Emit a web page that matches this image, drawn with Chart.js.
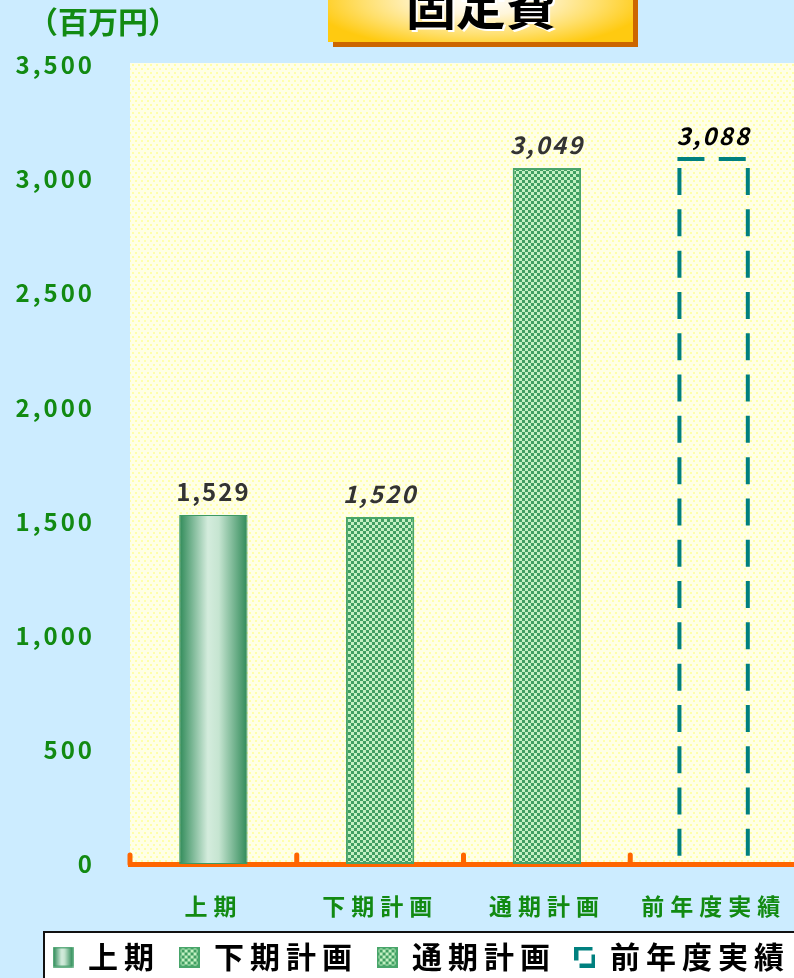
<!DOCTYPE html>
<html>
<head>
<meta charset="utf-8">
<script src="https://cdn.jsdelivr.net/npm/chart.js@4.4.1/dist/chart.umd.min.js"></script>
<style>
html,body{margin:0;padding:0;background:#CCECFF;overflow:hidden;}
#wrap{position:relative;width:794px;height:978px;overflow:hidden;}
canvas{display:block;}
</style>
</head>
<body>
<div id="wrap"><canvas id="costChart" width="843" height="1000"></canvas></div>
<script>
const categories = ["上期","下期計画","通期計画","前年度実績"];
const seriesNames = ["上期","下期計画","通期計画","前年度実績"];
const seriesValues = [1529, 1520, 3049, 3088];
const yTickValues = [0, 500, 1000, 1500, 2000, 2500, 3000, 3500];
const unitLabel = "（百万円）";
const titleText = "固定費";

const JP = '"Noto Sans CJK JP", "Noto Sans", sans-serif';
const GREEN_TEXT = "#128A12";
const TEAL = "#00807F";

function makeCanvas(w,h){
    const c = document.createElement("canvas");
    c.width = w; c.height = h;
    return c;
}

// checker fill used by the plan bars
function checkerPattern(){
    const c = makeCanvas(6,6);
    const g = c.getContext("2d");
    g.fillStyle = "#C3F1C2";
    g.fillRect(0,0,6,6);
    g.fillStyle = "#409F62";
    g.fillRect(0,0,3,3);
    g.fillRect(3,3,3,3);
    return c;
}

// pale yellow dotted plot background
function dotPattern(){
    const c = makeCanvas(6,8);
    const g = c.getContext("2d");
    g.fillStyle = "#FFFFE6";
    g.fillRect(0,0,6,8);
    g.fillStyle = "#FFFFAA";
    g.fillRect(0,0,2,2);
    g.fillRect(3,4,2,2);
    return c;
}

function addCylinderStops(grad){
    grad.addColorStop(0,"#2F8A58");
    grad.addColorStop(0.42,"#D4ECDD");
    grad.addColorStop(0.58,"#C6E5D1");
    grad.addColorStop(1,"#2F8A58");
    return grad;
}

const checkerCanvas = checkerPattern();
const scratch = makeCanvas(1,1).getContext("2d");
const checkerFill = scratch.createPattern(checkerCanvas,"repeat");

function legendIcon(kind){
    const c = makeCanvas(21,21);
    const g = c.getContext("2d");
    if(kind==="cyl"){
        g.fillStyle = addCylinderStops(g.createLinearGradient(1,0,20,0));
        g.fillRect(1,1,19,19);
        g.strokeStyle = "#3C9A64";
        g.lineWidth = 1.5;
        g.strokeRect(1,1,19,19);
    }else if(kind==="check"){
        g.fillStyle = g.createPattern(checkerCanvas,"repeat");
        g.fillRect(1,1,19,19);
        g.strokeStyle = "#48A56A";
        g.lineWidth = 2;
        g.strokeRect(1,1,19,19);
    }else{
        g.strokeStyle = TEAL;
        g.lineWidth = 4;
        g.beginPath();
        g.moveTo(18,2); g.lineTo(2,2); g.lineTo(2,14);
        g.moveTo(5,19); g.lineTo(19,19); g.lineTo(19,8);
        g.stroke();
    }
    return c;
}

const legendIcons = [legendIcon("cyl"),legendIcon("check"),legendIcon("check"),legendIcon("dash")];

const labelStyles = [
    {italic:false,color:"#333333"},
    {italic:true,color:"#333333"},
    {italic:true,color:"#333333"},
    {italic:true,color:"#000000"}
];

function seriesData(i){
    return categories.map((c,k)=> k===i ? seriesValues[i] : null);
}

function cylinderFill(context){
    const chart = context.chart;
    if(!chart.chartArea || !chart.scales.x) return "#6DB58A";
    const xs = chart.scales.x;
    const w = xs.width / categories.length * 0.41;
    const cx = xs.getPixelForValue(0);
    return addCylinderStops(chart.ctx.createLinearGradient(cx - w/2,0,cx + w/2,0));
}

const decorPlugin = {
    id:"decor",
    beforeLayout(chart){
        chart.ctx.letterSpacing = "6px";
    },
    beforeDraw(chart){
        const ctx = chart.ctx;
        const a = chart.chartArea;
        ctx.save();
        ctx.fillStyle = ctx.createPattern(dotPattern(),"repeat");
        ctx.fillRect(a.left,a.top - 2,a.right - a.left,a.bottom - a.top + 2);

        // legend frame
        ctx.fillStyle = "#FFFFFF";
        ctx.fillRect(43,931,900,100);
        ctx.strokeStyle = "#111111";
        ctx.lineWidth = 2;
        ctx.strokeRect(44,932,900,100);
        ctx.restore();
        ctx.letterSpacing = "6px";
    },
    afterDatasetsDraw(chart){
        const ctx = chart.ctx;
        const xs = chart.scales.x;
        const step = xs.width / categories.length;

        ctx.save();
        // category tick marks on the axis
        ctx.strokeStyle = "#FF6600";
        ctx.lineWidth = 5;
        ctx.lineCap = "round";
        ctx.beginPath();
        for(let i=0;i<=categories.length;i++){
            const x = xs.getPixelForValue(0) - step/2 + step*i;
            ctx.moveTo(x,xs.top);
            ctx.lineTo(x,xs.top - 9);
        }
        ctx.stroke();

        // dashed outline for last year's result
        const el = chart.getDatasetMeta(3).data[3];
        const l = el.x - el.width/2;
        const r = el.x + el.width/2;
        ctx.strokeStyle = TEAL;
        ctx.lineWidth = 4;
        ctx.lineCap = "butt";
        ctx.setLineDash([27,14.3]);
        ctx.beginPath();
        ctx.moveTo(l - 2,el.y);
        ctx.lineTo(r + 2,el.y);
        ctx.stroke();
        ctx.beginPath();
        ctx.moveTo(l,el.y + 9);
        ctx.lineTo(l,el.base - 4);
        ctx.moveTo(r,el.y + 9);
        ctx.lineTo(r,el.base - 4);
        ctx.stroke();
        ctx.setLineDash([]);

        // value labels
        ctx.letterSpacing = "2px";
        ctx.textAlign = "center";
        ctx.textBaseline = "middle";
        seriesValues.forEach((v,i)=>{
            const bar = chart.getDatasetMeta(i).data[i];
            const st = labelStyles[i];
            ctx.font = (st.italic ? "italic " : "") + "bold 24px " + JP;
            ctx.fillStyle = st.color;
            ctx.fillText(v.toLocaleString("en-US"),bar.x,bar.y - 23);
        });
        ctx.restore();
        ctx.letterSpacing = "3px";
    },
    afterDraw(chart){
        const ctx = chart.ctx;
        ctx.save();
        ctx.letterSpacing = "0px";

        // title plate
        ctx.fillStyle = "#CC6600";
        ctx.fillRect(333,-5,305,52);
        ctx.save();
        ctx.beginPath();
        ctx.rect(328,-5,305,47);
        ctx.clip();
        ctx.translate(480,0);
        ctx.scale(1,0.3);
        const rg = ctx.createRadialGradient(0,0,0,0,0,170);
        rg.addColorStop(0,"#FFFFFF");
        rg.addColorStop(0.3,"#FFF6DA");
        rg.addColorStop(0.7,"#FFDF6A");
        rg.addColorStop(1,"#FFCA10");
        ctx.fillStyle = rg;
        ctx.fillRect(-160,-20,320,200);
        ctx.restore();

        ctx.font = "bold 50px " + JP;
        ctx.textAlign = "center";
        ctx.textBaseline = "middle";
        ctx.fillStyle = "#FFFFFF";
        ctx.fillText(titleText,483,8);
        ctx.fillStyle = "#000000";
        ctx.fillText(titleText,481,6);

        // unit label
        ctx.font = "bold 30px " + JP;
        ctx.fillStyle = GREEN_TEXT;
        ctx.fillText(unitLabel,103,22);
        ctx.restore();
    }
};

const ctx = document.getElementById("costChart").getContext("2d");

new Chart(ctx,{
    type:"bar",
    data:{
        labels:categories,
        datasets:seriesNames.map((name,i)=>({
            label:name,
            data:seriesData(i),
            backgroundColor: i===0 ? cylinderFill : (i===3 ? "rgba(0,0,0,0)" : checkerFill),
            borderColor: i===0 ? "#3C9A64" : "#48A56A",
            borderWidth: i===3 ? 0 : (i===0 ? 1 : 2),
            borderSkipped:false,
            categoryPercentage:1,
            barPercentage:0.41
        }))
    },
    options:{
        responsive:false,
        animation:false,
        devicePixelRatio:1,
        layout:{
            padding:{top:65,left:0,right:0,bottom:18}
        },
        scales:{
            x:{
                stacked:true,
                grid:{display:false,drawTicks:false},
                border:{display:true,color:"#FF6600",width:5},
                ticks:{
                    padding:28,
                    maxRotation:0,
                    autoSkip:false,
                    color:GREEN_TEXT,
                    font:{family:JP,size:23,weight:"bold"}
                },
                afterFit(s){ s.height = 59; }
            },
            y:{
                stacked:true,
                min:0,
                max:3500,
                grid:{display:false,drawTicks:false},
                border:{display:false},
                afterBuildTicks(s){
                    s.ticks = yTickValues.map(v=>({value:v}));
                },
                ticks:{
                    z:1,
                    padding:35,
                    color:GREEN_TEXT,
                    font:{family:JP,size:24,weight:"bold"},
                    callback:v=>v.toLocaleString("en-US")
                },
                afterFit(s){ s.width = 130; }
            },
            gap:{
                type:"linear",
                position:"right",
                grid:{display:false,drawTicks:false},
                border:{display:false},
                ticks:{display:false},
                afterFit(s){ s.width = 46; }
            }
        },
        plugins:{
            tooltip:{enabled:false},
            legend:{
                position:"bottom",
                align:"center",
                labels:{
                    usePointStyle:true,
                    pointStyleWidth:20,
                    padding:19,
                    color:"#000000",
                    font:{family:JP,size:30,weight:"bold"},
                    generateLabels:()=>seriesNames.map((n,i)=>({
                        text:n,
                        pointStyle:legendIcons[i],
                        fillStyle:"rgba(0,0,0,0)",
                        strokeStyle:"rgba(0,0,0,0)",
                        lineWidth:0,
                        hidden:false,
                        datasetIndex:i,
                        fontColor:"#000000"
                    }))
                }
            }
        }
    },
    plugins:[decorPlugin]
});
</script>
</body>
</html>
